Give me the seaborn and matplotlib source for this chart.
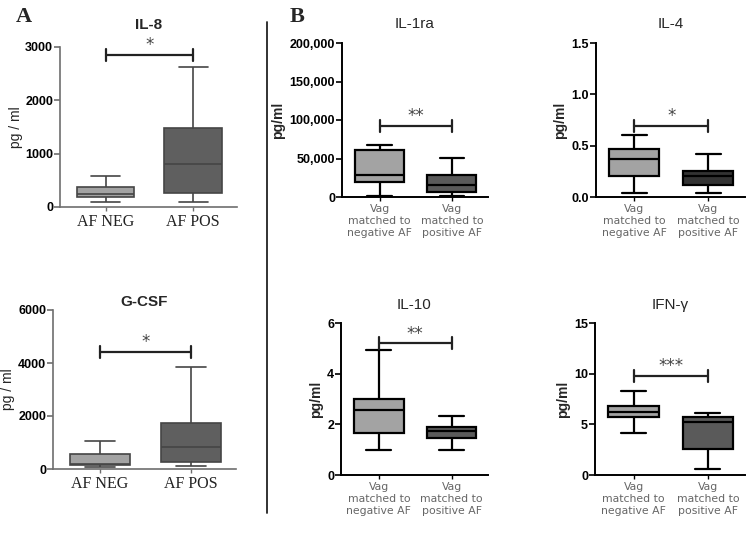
import matplotlib
matplotlib.use("Agg")
import matplotlib.pyplot as plt
import matplotlib.ticker as mticker
import seaborn as sns
import pandas as pd

# five-number summaries: min, Q1, median, Q3, max
il8_neg = [90, 180, 250, 380, 580]
il8_pos = [100, 260, 800, 1480, 2630]
gcsf_neg = [60, 150, 200, 580, 1050]
gcsf_pos = [130, 270, 830, 1720, 3850]
il1ra_neg = [1000, 20000, 29000, 61000, 67000]
il1ra_pos = [1000, 6000, 16000, 29000, 51000]
il4_neg = [0.04, 0.20, 0.37, 0.47, 0.60]
il4_pos = [0.04, 0.12, 0.20, 0.25, 0.42]
il10_neg = [1.0, 1.67, 2.57, 3.0, 4.95]
il10_pos = [1.0, 1.45, 1.75, 1.88, 2.33]
ifng_neg = [4.1, 5.7, 6.2, 6.8, 8.3]
ifng_pos = [0.55, 2.6, 5.25, 5.75, 6.1]

groups_a = ["AF NEG", "AF POS"]
groups_b = ["Vag\nmatched to\nnegative AF", "Vag\nmatched to\npositive AF"]

titles = ["IL-8", "G-CSF", "IL-1ra", "IL-4", "IL-10", "IFN-γ"]
stars = ["*", "*", "**", "*", "**", "***"]
sig_y = [2850, 4420, 92000, 0.69, 5.2, 9.8]
ymax = [3000, 6000, 200000, 1.5, 6, 15]
ystep = [1000, 2000, 50000, 0.5, 2, 5]

sns.set_style("ticks")
plt.rcParams["font.family"] = ["Liberation Sans", "DejaVu Sans"]

fig = plt.figure(figsize=(7.54, 5.39), dpi=100)


def px(l, t, r, b):
    return [l / 754, 1 - b / 539, (r - l) / 754, (b - t) / 539]


def panel(rect, neg, pos, groups, i, panel_a, pos_color="#5c5c5c", title_pad=10):
    ax = fig.add_axes(rect)
    df = pd.DataFrame({"group": [groups[0]] * len(neg) + [groups[1]] * len(pos),
                       "value": neg + pos})
    edge = "#454545" if panel_a else "black"
    lw = 1.2 if panel_a else 1.6
    sns.boxplot(data=df, x="group", y="value", hue="group", order=groups,
                palette=["#a3a3a3", pos_color], whis=(0, 100),
                width=0.66 if panel_a else 0.68, linewidth=lw, linecolor=edge,
                legend=False, ax=ax)
    ax.set_xlim(-0.52, 1.5)
    ax.set_ylim(0, ymax[i])
    ax.yaxis.set_major_locator(mticker.MultipleLocator(ystep[i]))
    if ymax[i] >= 100000:
        ax.yaxis.set_major_formatter(mticker.StrMethodFormatter("{x:,.0f}"))
    elif ymax[i] < 2:
        ax.yaxis.set_major_formatter(mticker.StrMethodFormatter("{x:.1f}"))
    sns.despine(ax=ax)
    spine_c = "#6e6e6e" if panel_a else "black"
    for s in ["left", "bottom"]:
        ax.spines[s].set_color(spine_c)
        ax.spines[s].set_linewidth(1.2 if panel_a else 1.4)
    ax.tick_params(axis="y", colors=spine_c, labelcolor="black", length=4,
                   width=1.2, labelsize=9, pad=1)
    for t in ax.get_yticklabels():
        t.set_fontweight("bold")
    ax.tick_params(axis="x", colors=spine_c, length=3, width=1.0, pad=2)
    ax.set_xlabel("")
    if panel_a:
        ax.set_xticks([0, 1], groups, family="Liberation Serif", fontsize=11.5,
                      color="#222222")
        ax.set_ylabel("pg / ml", fontsize=10)
        ax.yaxis.set_label_coords(-0.21, 0.5)
    else:
        ax.set_xticks([0, 1], groups, family="DejaVu Sans", fontsize=7.8,
                      color="#666666", linespacing=1.25)
        ax.set_ylabel("pg/ml", fontsize=10, fontweight="bold", labelpad=3)
    ax.set_title(titles[i], fontsize=11, fontweight="bold" if panel_a else "normal",
                 pad=title_pad)
    # significance bar
    h = sig_y[i]
    cap = 0.04 * ymax[i]
    ax.plot([0, 1], [h, h], color="#222222", lw=1.6, clip_on=False)
    ax.plot([0, 0], [h - cap, h + cap], color="#222222", lw=1.6, clip_on=False)
    ax.plot([1, 1], [h - cap, h + cap], color="#222222", lw=1.6, clip_on=False)
    ax.text(0.5, h + 0.005 * ymax[i], stars[i], ha="center", va="bottom",
            fontsize=12, color="#444444", family="DejaVu Sans")
    return ax


panel(px(60, 47, 237, 207), il8_neg, il8_pos, groups_a, 0, True, "#5f5f5f", title_pad=13)
panel(px(53, 310, 236, 469), gcsf_neg, gcsf_pos, groups_a, 1, True, "#5f5f5f", title_pad=3)
panel(px(342, 43, 488, 197), il1ra_neg, il1ra_pos, groups_b, 2, False, "#5a5a5a", title_pad=11)
panel(px(596, 43, 745, 197), il4_neg, il4_pos, groups_b, 3, False, "#333333", title_pad=11)
panel(px(341, 323, 488, 475), il10_neg, il10_pos, groups_b, 4, False, "#5a5a5a", title_pad=10)
panel(px(595, 323, 745, 475), ifng_neg, ifng_pos, groups_b, 5, False, "#5a5a5a", title_pad=10)

fig.text(16 / 754, 1 - 17 / 539, "A", family="Liberation Serif", fontsize=16,
         fontweight="bold", va="center")
fig.text(290 / 754, 1 - 17 / 539, "B", family="Liberation Serif", fontsize=16,
         fontweight="bold", va="center")
fig.add_artist(plt.Line2D([267 / 754, 267 / 754], [1 - 22 / 539, 1 - 513 / 539],
                          color="#222222", lw=1.3))

fig.savefig("out.png", dpi=100)
